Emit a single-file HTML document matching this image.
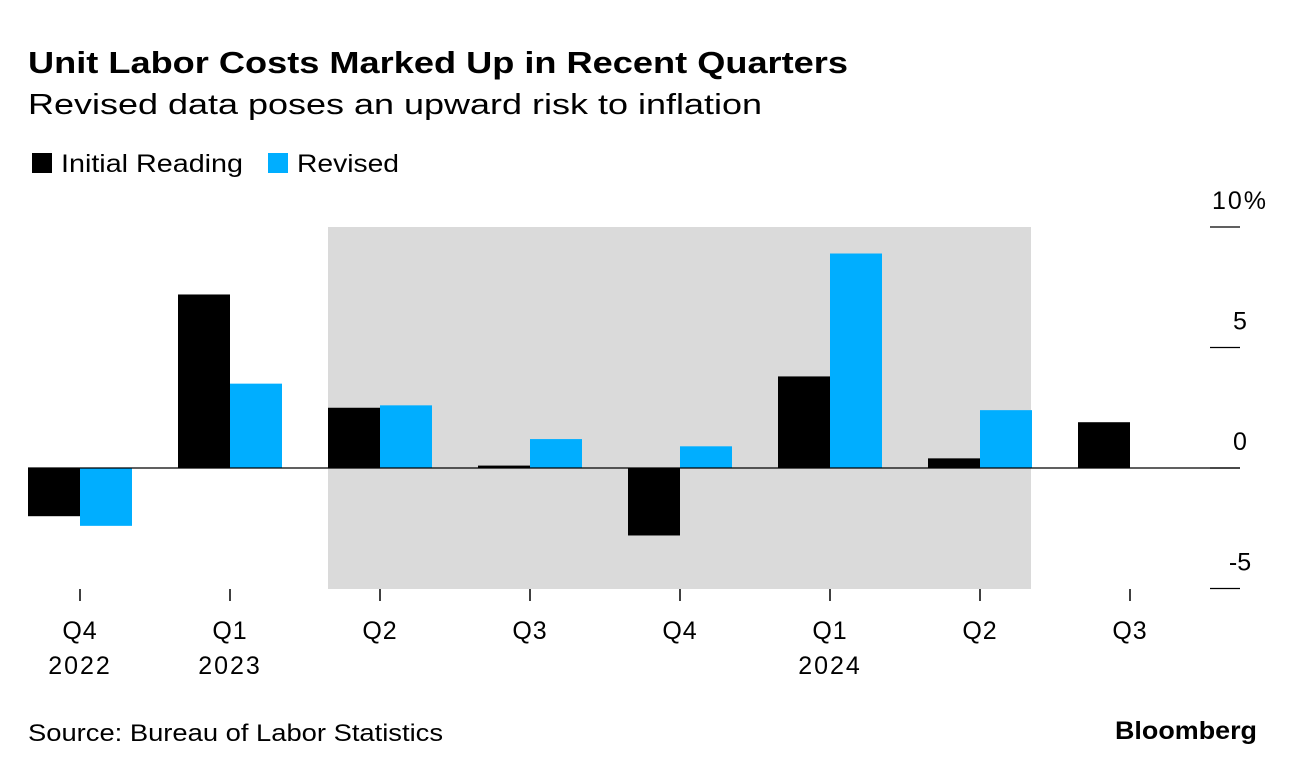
<!DOCTYPE html>
<html><head><meta charset="utf-8"><style>
body{margin:0;background:#fff;font-family:"Liberation Sans",Arial,sans-serif;}
svg text{font-family:"Liberation Sans",Arial,sans-serif;}
</style></head><body>
<svg id="chart" width="1296" height="774" xmlns="http://www.w3.org/2000/svg">
<text x="28" y="73" font-size="31" font-weight="bold" fill="#000" textLength="820" lengthAdjust="spacingAndGlyphs">Unit Labor Costs Marked Up in Recent Quarters</text>
<text x="28" y="114" font-size="29" fill="#000" textLength="734" lengthAdjust="spacingAndGlyphs">Revised data poses an upward risk to inflation</text>
<g>
<rect x="32" y="153" width="20" height="20" fill="#000"/>
<text x="61" y="172" font-size="25" textLength="182" lengthAdjust="spacingAndGlyphs">Initial Reading</text>
<rect x="268" y="153" width="20" height="20" fill="#00aeff"/>
<text x="297" y="172" font-size="25" textLength="102" lengthAdjust="spacingAndGlyphs">Revised</text>
</g>
<rect x="328" y="227" width="703" height="362" fill="#dadada"/>
<g id="bars"></g>
<g id="axes"></g>
<text x="28" y="741" font-size="24" textLength="415" lengthAdjust="spacingAndGlyphs">Source: Bureau of Labor Statistics</text>
<text x="1257" y="739" font-size="25" font-weight="bold" text-anchor="end" textLength="142" lengthAdjust="spacingAndGlyphs">Bloomberg</text>
</svg>
<script>
const quarters=["Q4","Q1","Q2","Q3","Q4","Q1","Q2","Q3"];
const years=["2022","2023","","","","2024","",""];
const initialValues=[-2.0,7.2,2.5,0.1,-2.8,3.8,0.4,1.9];
const revisedValues=[-2.4,3.5,2.6,1.2,0.9,8.9,2.4,null];
const yTicks=[10,5,0,-5];
const yTickLabels=["10%","5","0","-5"];
const NS="http://www.w3.org/2000/svg";
const y0=468, pxPerUnit=24.1;
function yScale(v){return y0-v*pxPerUnit;}
function xCenter(i){return 80+i*150;}
const bw=52;
const bars=document.getElementById('bars');
const axes=document.getElementById('axes');
function mk(tag,attrs,parent){const e=document.createElementNS(NS,tag);for(const k in attrs)e.setAttribute(k,attrs[k]);parent.appendChild(e);return e;}
quarters.forEach((q,i)=>{
  const c=xCenter(i);
  const a=initialValues[i];
  if(a!==null){
    const r=mk('rect',{x:c-bw,y:Math.min(yScale(a),y0),width:bw,height:Math.abs(yScale(a)-y0),fill:'#000'},bars);
    
    
  }
  const b=revisedValues[i];
  if(b!==null){
    const r=mk('rect',{x:c,y:Math.min(yScale(b),y0),width:bw,height:Math.abs(yScale(b)-y0),fill:'#00aeff'},bars);
    
    
  }
  const t=mk('line',{x1:c,x2:c,y1:589,y2:601,stroke:'#000','stroke-width':1.5},axes);
  
  
  const l=mk('text',{x:c,y:639,'font-size':25,'text-anchor':'middle','letter-spacing':1},axes);
  l.textContent=q;
  
  
  if(years[i]){
    const yl=mk('text',{x:c,y:674,'font-size':25,'text-anchor':'middle','letter-spacing':2},axes);
    yl.textContent=years[i];
    
    
  }
});
const zl=mk('line',{x1:28,x2:1240,y1:y0,y2:y0,stroke:'#000','stroke-width':1.2},axes);


yTicks.forEach((v,i)=>{
  const y=yScale(v);
  const ln=mk('line',{x1:1210,x2:1240,y1:y,y2:y,stroke:'#000','stroke-width':1.2},axes);
  
  
  const t=mk('text',{x:1240,y:y-18,'font-size':25,'text-anchor':'middle'},axes);
  t.textContent=yTickLabels[i];
  if(i===0){t.setAttribute('x',1240);t.setAttribute('letter-spacing',2);}
  
  
});
</script>
</body></html>
